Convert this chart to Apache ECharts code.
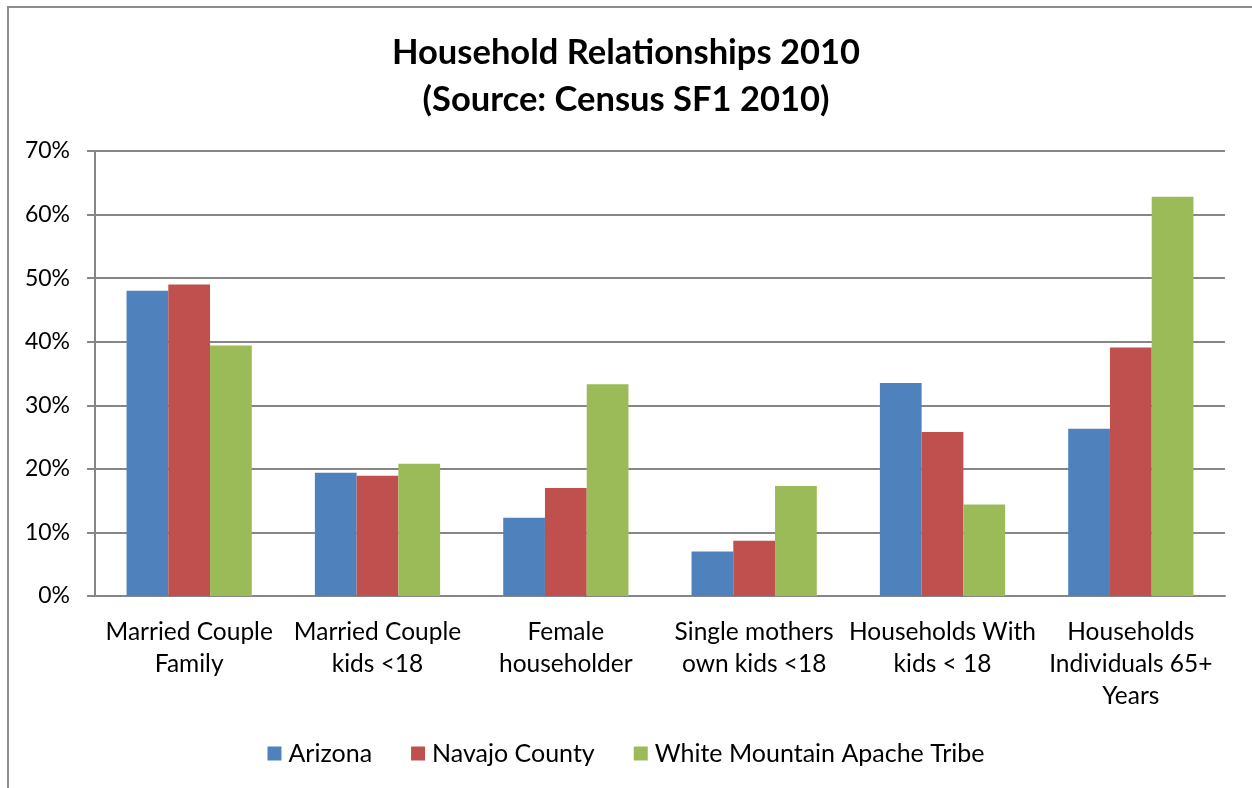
<!DOCTYPE html>
<html lang="en">
<head>
    <meta charset="UTF-8">
    <title>Household Relationships 2010</title>
    <style>
        body { margin: 0; background: #fff; }
        #main { position: absolute; left: 0; top: 0; width: 1252px; height: 788px; }
        #frame { position: absolute; left: 7px; top: 6px; width: 1300px; height: 900px;
                 border-left: 2px solid #8c8c8c; border-top: 2px solid #8c8c8c; pointer-events: none; }
    </style>
</head>
<body>

<div id="main"></div>
<div id="frame"></div>

<script src="https://cdn.jsdelivr.net/npm/echarts@6/dist/echarts.min.js"></script>
<script>
    var categories = [
        'Married Couple\nFamily',
        'Married Couple\nkids <18',
        'Female\nhouseholder',
        'Single mothers\nown kids <18',
        'Households With\nkids < 18',
        'Households\nIndividuals 65+\nYears'
    ];
    var arizona = [48.0, 19.4, 12.3, 7.0, 33.5, 26.3];
    var navajo = [49.0, 18.9, 17.0, 8.7, 25.8, 39.1];
    var whiteMountain = [39.4, 20.8, 33.3, 17.3, 14.4, 62.8];

    var font = 'Lato, "Open Sans", sans-serif';
    var myChart = echarts.init(document.getElementById('main'));

    var option = {
        animation: false,
        color: ['#4f81bd', '#c0504d', '#9bbb59'],
        textStyle: { fontFamily: font },
        title: {
            text: 'Household Relationships 2010\n(Source: Census SF1 2010)',
            left: 'center',
            top: 24,
            textStyle: {
                fontFamily: font,
                fontSize: 34.5,
                fontWeight: 'bold',
                color: '#000',
                lineHeight: 47
            }
        },
        legend: {
            top: 736,
            left: 'center',
            itemWidth: 14,
            itemHeight: 14,
            itemGap: 39,
            icon: 'rect',
            textStyle: { fontFamily: font, fontSize: 25, color: '#000', padding: [0, 0, 0, 2] }
        },
        grid: {
            left: 95,
            right: 27,
            top: 151,
            bottom: 192
        },
        xAxis: {
            type: 'category',
            data: categories,
            axisLine: { lineStyle: { color: '#868686', width: 2 } },
            axisTick: { length: 8, lineStyle: { color: '#868686', width: 2 } },
            axisLabel: {
                interval: 0,
                margin: 20,
                fontFamily: font,
                fontSize: 24.5,
                lineHeight: 32,
                color: '#000'
            }
        },
        yAxis: {
            type: 'value',
            min: 0,
            max: 70,
            interval: 10,
            axisLine: { show: true, lineStyle: { color: '#868686', width: 2 } },
            axisTick: { show: true, length: 8, lineStyle: { color: '#868686', width: 2 } },
            splitLine: { lineStyle: { color: '#868686', width: 2 } },
            axisLabel: {
                formatter: '{value}%',
                margin: 25,
                fontFamily: font,
                fontSize: 23,
                color: '#000'
            }
        },
        series: [
            { name: 'Arizona', type: 'bar', data: arizona, barGap: '0%', barCategoryGap: '33.5%' },
            { name: 'Navajo County', type: 'bar', data: navajo, barGap: '0%', barCategoryGap: '33.5%' },
            { name: 'White Mountain Apache Tribe', type: 'bar', data: whiteMountain, barGap: '0%', barCategoryGap: '33.5%' }
        ]
    };
    myChart.setOption(option);
</script>
</body>
</html>
